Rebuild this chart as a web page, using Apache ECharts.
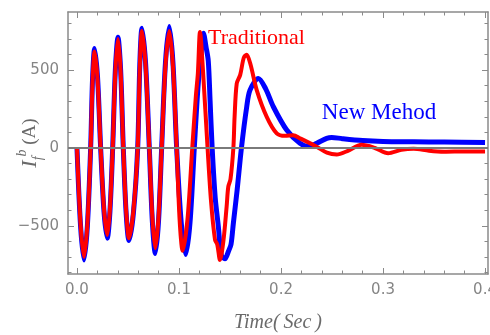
<!DOCTYPE html>
<html>
<head>
<meta charset="utf-8">
<script src="https://cdn.jsdelivr.net/npm/echarts@6/dist/echarts.min.js"></script>
<style>
  html, body { margin: 0; padding: 0; background: #ffffff; }
  #chart { width: 490px; height: 335px; }
</style>
</head>
<body>
<div id="chart"></div>
<script>
// Fault current I_f^b (A) against time (s) for the two protection schemes.
const newMethod = [
  [0, 0], [0.0035, -500], [0.0069, -720], [0.0102, -500], [0.0134, 0],
  [0.0153, 450], [0.0173, 640], [0.0202, 450], [0.0232, 0],
  [0.0265, -410], [0.0297, -580], [0.0323, -410], [0.035, 0],
  [0.0376, 500], [0.0402, 712], [0.0428, 500], [0.0454, 0],
  [0.0482, -420], [0.051, -595], [0.0553, -420], [0.0595, 0],
  [0.0616, 540], [0.0637, 770], [0.0673, 540], [0.0709, 0],
  [0.0739, -475], [0.0768, -678], [0.0799, -475], [0.083, 0],
  [0.0867, 545], [0.0905, 780], [0.0941, 545], [0.0977, 0],
  [0.1022, -480], [0.1066, -685], [0.1108, -480], [0.115, 0],
  [0.1185, 380], [0.1215, 600], [0.124, 738], [0.1265, 650], [0.1287, 560],
  [0.1305, 300], [0.1325, 0], [0.1355, -320], [0.1385, -500],
  [0.1415, -690], [0.145, -712], [0.1487, -660], [0.151, -620],
  [0.1533, -483], [0.157, -270], [0.1612, 0], [0.1664, 265], [0.1696, 372],
  [0.1778, 447], [0.185, 380], [0.1925, 265], [0.2056, 115], [0.2186, 30],
  [0.2268, 10], [0.235, 30], [0.2448, 62], [0.2497, 68], [0.26, 60],
  [0.28, 48], [0.30, 42], [0.33, 40], [0.36, 38], [0.40, 35]
];

const traditional = [
  [0, 0], [0.0035, -490], [0.0069, -700], [0.0102, -490], [0.0134, 0],
  [0.0153, 435], [0.0173, 620], [0.0202, 435], [0.0232, 0],
  [0.0265, -395], [0.0297, -560], [0.0323, -395], [0.035, 0],
  [0.0376, 490], [0.0402, 700], [0.0428, 490], [0.0454, 0],
  [0.0482, -405], [0.051, -580], [0.0553, -405], [0.0595, 0],
  [0.0616, 525], [0.0637, 752], [0.0673, 525], [0.0709, 0],
  [0.0739, -450], [0.0768, -645], [0.0799, -450], [0.083, 0],
  [0.0867, 525], [0.0905, 752], [0.0941, 525], [0.0977, 0],
  [0.1006, -460], [0.1036, -660], [0.1083, -460], [0.113, 0],
  [0.1165, 330], [0.1185, 480], [0.1206, 746], [0.1235, 500], [0.128, 0],
  [0.1315, -350], [0.1353, -590], [0.1375, -620], [0.1402, -720],
  [0.1435, -600], [0.1467, -376], [0.1483, -250], [0.1505, -200], [0.1533, 0],
  [0.1545, 200], [0.1566, 415], [0.16, 470], [0.1635, 580], [0.1663, 600],
  [0.17, 540], [0.1762, 372], [0.186, 200], [0.1958, 94], [0.204, 78],
  [0.212, 82], [0.2186, 62], [0.235, 8], [0.245, -30], [0.2546, -42],
  [0.265, -20], [0.279, 20], [0.292, 0], [0.305, -34], [0.318, -12],
  [0.33, -5], [0.345, -18], [0.36, -24], [0.38, -22], [0.40, -22]
];

// Tick positions
const xMajorTicks = [0, 0.1, 0.2, 0.3, 0.4];
const xMinorTicks = [0.02, 0.04, 0.06, 0.08, 0.12, 0.14, 0.16, 0.18,
  0.22, 0.24, 0.26, 0.28, 0.32, 0.34, 0.36, 0.38];
const yMajorTicks = [-500, 0, 500];
const yMinorTicks = [-800, -700, -600, -400, -300, -200, -100,
  100, 200, 300, 400, 600, 700, 800];

// Curve annotations, placed in data coordinates
const curveNotes = [
  { text: 'Traditional', at: [0.1284, 705], color: '#ff0000', size: 22 },
  { text: 'New Mehod', at: [0.240, 224], color: '#0000ff', size: 23 }
];

const X_RANGE = [-0.0088, 0.4029];
const Y_RANGE = [-810, 874];
const FRAME = '#8a8a8a';
const LABEL = '#858585';

const gridRect = { left: 68, top: 12, right: 2, bottom: 61, outerBoundsMode: 'none', containLabel: false };

function xAxisDef(grid, position, ticks, len, withLabels) {
  return {
    type: 'value', gridIndex: grid, position: position,
    min: X_RANGE[0], max: X_RANGE[1],
    axisLine: { show: grid === 0, onZero: false, lineStyle: { color: FRAME, width: 1.5 } },
    axisTick: { show: true, inside: true, length: len, customValues: ticks,
      lineStyle: { color: FRAME, width: 1 } },
    axisLabel: { show: withLabels, customValues: ticks, margin: 9,
      fontFamily: 'DejaVu Sans', fontSize: 15, color: LABEL,
      formatter: v => v.toFixed(1) },
    splitLine: { show: false }
  };
}

function yAxisDef(grid, position, ticks, len, withLabels) {
  return {
    type: 'value', gridIndex: grid, position: position,
    min: Y_RANGE[0], max: Y_RANGE[1],
    axisLine: { show: grid === 0, onZero: false, lineStyle: { color: FRAME, width: 1.5 } },
    axisTick: { show: true, inside: true, length: len, customValues: ticks,
      lineStyle: { color: FRAME, width: 1 } },
    axisLabel: { show: withLabels, customValues: ticks, margin: 9,
      fontFamily: 'DejaVu Sans', fontSize: 15, color: LABEL,
      formatter: v => (v < 0 ? '\u2212' + Math.abs(v) : String(v)) },
    splitLine: { show: false }
  };
}

const xAxes = [
  xAxisDef(0, 'bottom', xMajorTicks, 6, true),
  xAxisDef(0, 'top', xMajorTicks, 6, false),
  xAxisDef(1, 'bottom', xMinorTicks, 3.5, false),
  xAxisDef(1, 'top', xMinorTicks, 3.5, false)
];
xAxes[0].name = 'Time(\u2009Sec\u2009)';
xAxes[0].nameLocation = 'middle';
xAxes[0].nameGap = 39;
xAxes[0].nameMoveOverlap = false;
xAxes[0].nameTextStyle = { fontFamily: 'Liberation Serif', fontStyle: 'italic',
  fontSize: 20, color: '#6a6a6a' };

const yAxes = [
  yAxisDef(0, 'left', yMajorTicks, 6, true),
  yAxisDef(0, 'right', yMajorTicks, 6, false),
  yAxisDef(1, 'left', yMinorTicks, 3.5, false),
  yAxisDef(1, 'right', yMinorTicks, 3.5, false)
];
yAxes[0].name = '{i|I}{sub|f}{sup|b}{u| (A)}';
yAxes[0].nameLocation = 'middle';
yAxes[0].nameGap = 23;
yAxes[0].nameMoveOverlap = false;
yAxes[0].nameTextStyle = {
  color: '#6a6a6a',
  rich: {
    i: { fontFamily: 'Liberation Serif', fontStyle: 'italic', fontSize: 22,
      color: '#6a6a6a', lineHeight: 30, verticalAlign: 'middle' },
    sub: { fontFamily: 'Liberation Serif', fontStyle: 'italic', fontSize: 14,
      color: '#6a6a6a', lineHeight: 14, verticalAlign: 'bottom' },
    sup: { fontFamily: 'Liberation Serif', fontStyle: 'italic', fontSize: 14,
      color: '#6a6a6a', lineHeight: 14, verticalAlign: 'top' },
    u: { fontFamily: 'Liberation Serif', fontSize: 19, color: '#6a6a6a',
      lineHeight: 30, verticalAlign: 'middle' }
  }
};

function noteMarker(note) {
  return {
    symbol: 'circle', symbolSize: 1, silent: true,
    itemStyle: { color: 'rgba(0,0,0,0)' },
    data: [{
      coord: note.at,
      label: {
        show: true, position: 'inside', align: 'left', verticalAlign: 'middle',
        formatter: note.text, color: note.color,
        fontFamily: 'Liberation Serif', fontSize: note.size
      }
    }]
  };
}

const chart = echarts.init(document.getElementById('chart'), null, { renderer: 'canvas' });
chart.setOption({
  animation: false,
  backgroundColor: '#ffffff',
  grid: [Object.assign({}, gridRect), Object.assign({}, gridRect)],
  xAxis: xAxes,
  yAxis: yAxes,
  series: [
    {
      name: 'New Mehod', type: 'line', xAxisIndex: 0, yAxisIndex: 0,
      data: newMethod, showSymbol: false, smooth: 0.3, z: 2,
      lineStyle: { color: '#0000ff', width: 5 },
      markPoint: noteMarker(curveNotes[1])
    },
    {
      name: 'Traditional', type: 'line', xAxisIndex: 0, yAxisIndex: 0,
      data: traditional, showSymbol: false, smooth: 0.3, z: 3,
      lineStyle: { color: '#ff0000', width: 4 },
      markPoint: noteMarker(curveNotes[0]),
      markLine: {
        silent: true, symbol: 'none', label: { show: false },
        lineStyle: { color: '#7a7a7a', width: 2, type: 'solid' },
        data: [{ yAxis: 0 }]
      }
    }
  ]
});
</script>
</body>
</html>
